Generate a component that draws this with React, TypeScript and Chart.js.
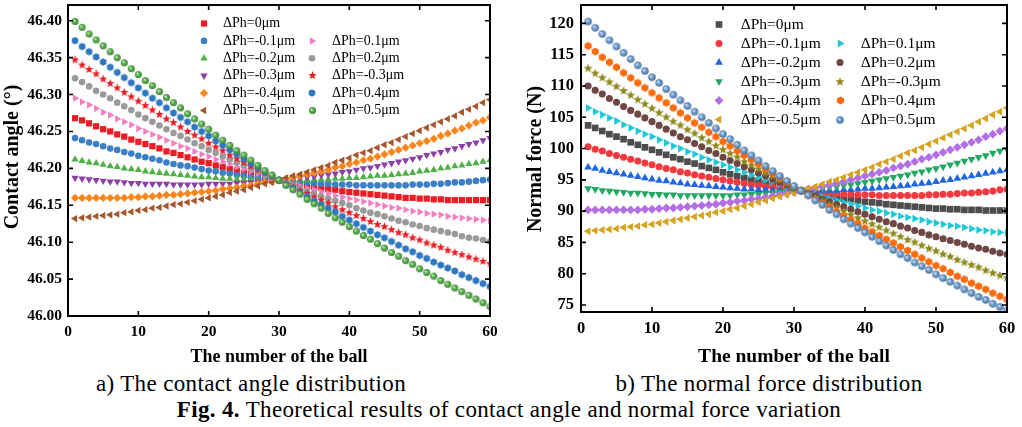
import React, { useEffect, useRef } from 'react';
import { Chart, registerables } from 'chart.js';

Chart.register(...registerables);

const FONT = '"Liberation Serif", "Times New Roman", Times, serif';

const BALLS = [1, 2, 3, 4, 5, 6, 7, 8, 9, 10, 11, 12, 13, 14, 15, 16, 17, 18, 19, 20, 21, 22, 23, 24, 25, 26, 27, 28, 29, 30, 31, 32, 33, 34, 35, 36, 37, 38, 39, 40, 41, 42, 43, 44, 45, 46, 47, 48, 49, 50, 51, 52, 53, 54, 55, 56, 57, 58, 59, 60];

const LABELS = ['ΔPh=0μm', 'ΔPh=-0.1μm', 'ΔPh=-0.2μm', 'ΔPh=-0.3μm', 'ΔPh=-0.4μm', 'ΔPh=-0.5μm', 'ΔPh=0.1μm', 'ΔPh=0.2μm', 'ΔPh=-0.3μm', 'ΔPh=0.4μm', 'ΔPh=0.5μm'];

const X_TICKS = [0, 10, 20, 30, 40, 50, 60];
const CA_TICKS = [46.0, 46.05, 46.1, 46.15, 46.2, 46.25, 46.3, 46.35, 46.4];
const NF_TICKS = [75, 80, 85, 90, 95, 100, 105, 110, 115, 120];

// ---------- a) contact angle (deg) ----------
const CA_0 = [46.268, 46.265, 46.261, 46.257, 46.253, 46.250, 46.246, 46.243, 46.239, 46.236, 46.233, 46.230, 46.227, 46.223, 46.221, 46.218, 46.215, 46.212, 46.209, 46.207, 46.204, 46.202, 46.199, 46.197, 46.194, 46.192, 46.190, 46.188, 46.186, 46.184, 46.182, 46.180, 46.179, 46.177, 46.175, 46.174, 46.172, 46.171, 46.169, 46.168, 46.167, 46.166, 46.165, 46.164, 46.163, 46.162, 46.161, 46.160, 46.160, 46.159, 46.159, 46.158, 46.158, 46.157, 46.157, 46.157, 46.157, 46.157, 46.157, 46.157];
const CA_M01 = [46.241, 46.238, 46.235, 46.233, 46.230, 46.227, 46.225, 46.222, 46.220, 46.217, 46.215, 46.213, 46.211, 46.208, 46.206, 46.204, 46.203, 46.201, 46.199, 46.197, 46.196, 46.194, 46.193, 46.191, 46.190, 46.188, 46.187, 46.186, 46.185, 46.184, 46.183, 46.182, 46.181, 46.181, 46.180, 46.179, 46.179, 46.178, 46.178, 46.178, 46.177, 46.177, 46.177, 46.177, 46.177, 46.177, 46.177, 46.177, 46.178, 46.178, 46.178, 46.179, 46.179, 46.180, 46.181, 46.181, 46.182, 46.183, 46.184, 46.185];
const CA_M02 = [46.212, 46.210, 46.208, 46.207, 46.205, 46.203, 46.202, 46.200, 46.199, 46.198, 46.196, 46.195, 46.194, 46.193, 46.192, 46.191, 46.190, 46.189, 46.188, 46.188, 46.187, 46.186, 46.186, 46.185, 46.185, 46.185, 46.184, 46.184, 46.184, 46.184, 46.184, 46.184, 46.184, 46.184, 46.185, 46.185, 46.185, 46.186, 46.186, 46.187, 46.187, 46.188, 46.189, 46.190, 46.190, 46.191, 46.192, 46.193, 46.194, 46.196, 46.197, 46.198, 46.200, 46.201, 46.203, 46.204, 46.206, 46.207, 46.209, 46.211];
const CA_M03 = [46.187, 46.186, 46.185, 46.184, 46.183, 46.182, 46.182, 46.181, 46.180, 46.180, 46.179, 46.179, 46.179, 46.179, 46.178, 46.178, 46.178, 46.178, 46.178, 46.179, 46.179, 46.179, 46.179, 46.180, 46.180, 46.181, 46.182, 46.182, 46.183, 46.184, 46.185, 46.186, 46.187, 46.188, 46.189, 46.191, 46.192, 46.193, 46.195, 46.196, 46.198, 46.200, 46.201, 46.203, 46.205, 46.207, 46.209, 46.211, 46.213, 46.215, 46.218, 46.220, 46.222, 46.225, 46.227, 46.230, 46.233, 46.235, 46.238, 46.241];
const CA_M04 = [46.160, 46.160, 46.160, 46.160, 46.160, 46.160, 46.160, 46.160, 46.161, 46.161, 46.162, 46.162, 46.163, 46.164, 46.164, 46.165, 46.166, 46.167, 46.168, 46.169, 46.170, 46.172, 46.173, 46.174, 46.176, 46.177, 46.179, 46.181, 46.182, 46.184, 46.186, 46.188, 46.190, 46.192, 46.194, 46.196, 46.198, 46.201, 46.203, 46.206, 46.208, 46.211, 46.213, 46.216, 46.219, 46.222, 46.225, 46.228, 46.231, 46.234, 46.237, 46.240, 46.244, 46.247, 46.251, 46.254, 46.258, 46.262, 46.265, 46.269];
const CA_M05 = [46.132, 46.133, 46.134, 46.135, 46.136, 46.137, 46.138, 46.140, 46.141, 46.143, 46.144, 46.146, 46.147, 46.149, 46.151, 46.152, 46.154, 46.156, 46.158, 46.160, 46.162, 46.164, 46.167, 46.169, 46.171, 46.174, 46.176, 46.179, 46.181, 46.184, 46.187, 46.190, 46.192, 46.195, 46.198, 46.201, 46.204, 46.208, 46.211, 46.214, 46.218, 46.221, 46.224, 46.228, 46.232, 46.235, 46.239, 46.243, 46.247, 46.251, 46.255, 46.259, 46.263, 46.267, 46.271, 46.276, 46.280, 46.284, 46.289, 46.293];
const CA_P01 = [46.295, 46.290, 46.286, 46.281, 46.276, 46.272, 46.267, 46.263, 46.259, 46.254, 46.250, 46.246, 46.242, 46.238, 46.234, 46.230, 46.227, 46.223, 46.219, 46.216, 46.212, 46.209, 46.206, 46.202, 46.199, 46.196, 46.193, 46.190, 46.187, 46.184, 46.181, 46.178, 46.176, 46.173, 46.171, 46.168, 46.166, 46.163, 46.161, 46.159, 46.157, 46.155, 46.153, 46.151, 46.149, 46.147, 46.146, 46.144, 46.142, 46.141, 46.139, 46.138, 46.137, 46.135, 46.134, 46.133, 46.132, 46.131, 46.130, 46.129];
const CA_P02 = [46.322, 46.317, 46.311, 46.305, 46.300, 46.295, 46.289, 46.284, 46.279, 46.273, 46.268, 46.263, 46.258, 46.253, 46.248, 46.244, 46.239, 46.234, 46.230, 46.225, 46.221, 46.216, 46.212, 46.208, 46.204, 46.200, 46.196, 46.192, 46.188, 46.184, 46.180, 46.177, 46.173, 46.169, 46.166, 46.162, 46.159, 46.156, 46.153, 46.150, 46.146, 46.143, 46.140, 46.138, 46.135, 46.132, 46.129, 46.127, 46.124, 46.122, 46.119, 46.117, 46.115, 46.113, 46.111, 46.108, 46.106, 46.105, 46.103, 46.101];
const CA_P03 = [46.347, 46.340, 46.334, 46.328, 46.321, 46.315, 46.309, 46.303, 46.297, 46.291, 46.285, 46.279, 46.273, 46.267, 46.262, 46.256, 46.250, 46.245, 46.240, 46.234, 46.229, 46.224, 46.218, 46.213, 46.208, 46.203, 46.198, 46.194, 46.189, 46.184, 46.179, 46.175, 46.170, 46.166, 46.161, 46.157, 46.153, 46.148, 46.144, 46.140, 46.136, 46.132, 46.128, 46.124, 46.121, 46.117, 46.113, 46.110, 46.106, 46.103, 46.099, 46.096, 46.093, 46.089, 46.086, 46.083, 46.080, 46.077, 46.074, 46.071];
const CA_P04 = [46.373, 46.365, 46.358, 46.351, 46.344, 46.337, 46.330, 46.323, 46.316, 46.309, 46.302, 46.295, 46.289, 46.282, 46.275, 46.269, 46.263, 46.256, 46.250, 46.244, 46.237, 46.231, 46.225, 46.219, 46.213, 46.207, 46.201, 46.195, 46.190, 46.184, 46.178, 46.173, 46.167, 46.162, 46.156, 46.151, 46.146, 46.141, 46.135, 46.130, 46.125, 46.120, 46.115, 46.110, 46.106, 46.101, 46.096, 46.091, 46.087, 46.082, 46.078, 46.073, 46.069, 46.065, 46.061, 46.056, 46.052, 46.048, 46.044, 46.040];
const CA_P05 = [46.399, 46.391, 46.382, 46.374, 46.366, 46.358, 46.350, 46.343, 46.335, 46.327, 46.319, 46.312, 46.304, 46.296, 46.289, 46.282, 46.274, 46.267, 46.260, 46.253, 46.245, 46.238, 46.231, 46.224, 46.218, 46.211, 46.204, 46.197, 46.191, 46.184, 46.177, 46.171, 46.165, 46.158, 46.152, 46.146, 46.139, 46.133, 46.127, 46.121, 46.115, 46.109, 46.104, 46.098, 46.092, 46.086, 46.081, 46.075, 46.070, 46.064, 46.059, 46.054, 46.048, 46.043, 46.038, 46.033, 46.028, 46.023, 46.018, 46.013];

// ---------- b) normal force (N) ----------
const NF_0 = [103.7, 103.3, 102.8, 102.3, 101.9, 101.5, 101.0, 100.6, 100.2, 99.8, 99.4, 99.0, 98.6, 98.3, 97.9, 97.6, 97.2, 96.9, 96.6, 96.2, 95.9, 95.6, 95.3, 95.0, 94.8, 94.5, 94.2, 94.0, 93.7, 93.5, 93.25, 93.0, 92.8, 92.6, 92.4, 92.2, 92.0, 91.9, 91.7, 91.5, 91.4, 91.3, 91.1, 91.0, 90.9, 90.8, 90.7, 90.6, 90.5, 90.4, 90.4, 90.3, 90.3, 90.2, 90.2, 90.2, 90.1, 90.1, 90.1, 90.1];
const NF_M01 = [100.3, 99.9, 99.6, 99.2, 98.9, 98.6, 98.3, 98.0, 97.7, 97.4, 97.1, 96.8, 96.6, 96.3, 96.1, 95.8, 95.6, 95.4, 95.2, 95.0, 94.8, 94.6, 94.4, 94.2, 94.1, 93.9, 93.8, 93.6, 93.5, 93.4, 93.25, 93.1, 93.0, 93.0, 92.9, 92.8, 92.7, 92.7, 92.6, 92.6, 92.6, 92.5, 92.5, 92.5, 92.5, 92.5, 92.5, 92.5, 92.6, 92.6, 92.7, 92.7, 92.8, 92.9, 92.9, 93.0, 93.1, 93.2, 93.4, 93.5];
const NF_M02 = [97.0, 96.8, 96.5, 96.3, 96.1, 95.9, 95.7, 95.5, 95.3, 95.1, 94.9, 94.8, 94.6, 94.5, 94.3, 94.2, 94.1, 94.0, 93.9, 93.8, 93.7, 93.6, 93.5, 93.5, 93.4, 93.4, 93.3, 93.3, 93.3, 93.3, 93.25, 93.25, 93.3, 93.3, 93.3, 93.3, 93.4, 93.4, 93.5, 93.6, 93.6, 93.7, 93.8, 93.9, 94.0, 94.1, 94.3, 94.4, 94.5, 94.7, 94.9, 95.0, 95.2, 95.4, 95.6, 95.8, 96.0, 96.2, 96.4, 96.6];
const NF_M03 = [93.6, 93.5, 93.3, 93.2, 93.1, 93.0, 92.9, 92.9, 92.8, 92.7, 92.7, 92.6, 92.6, 92.5, 92.5, 92.5, 92.5, 92.5, 92.5, 92.5, 92.5, 92.6, 92.6, 92.7, 92.7, 92.8, 92.9, 93.0, 93.0, 93.1, 93.25, 93.4, 93.5, 93.6, 93.8, 93.9, 94.1, 94.2, 94.4, 94.6, 94.8, 95.0, 95.2, 95.4, 95.6, 95.8, 96.1, 96.3, 96.6, 96.8, 97.1, 97.4, 97.7, 98.0, 98.3, 98.6, 98.9, 99.3, 99.6, 99.9];
const NF_M04 = [90.2, 90.2, 90.2, 90.2, 90.2, 90.2, 90.2, 90.2, 90.3, 90.3, 90.4, 90.5, 90.5, 90.6, 90.7, 90.8, 90.9, 91.0, 91.1, 91.3, 91.4, 91.6, 91.7, 91.9, 92.0, 92.2, 92.4, 92.6, 92.8, 93.0, 93.25, 93.5, 93.7, 94.0, 94.2, 94.5, 94.7, 95.0, 95.3, 95.6, 95.9, 96.2, 96.5, 96.9, 97.2, 97.5, 97.9, 98.3, 98.6, 99.0, 99.4, 99.8, 100.2, 100.6, 101.0, 101.4, 101.9, 102.3, 102.8, 103.2];
const NF_M05 = [86.8, 86.9, 87.0, 87.1, 87.2, 87.4, 87.5, 87.6, 87.8, 87.9, 88.1, 88.3, 88.5, 88.7, 88.9, 89.1, 89.3, 89.5, 89.8, 90.0, 90.3, 90.5, 90.8, 91.1, 91.4, 91.7, 92.0, 92.3, 92.6, 92.9, 93.25, 93.6, 93.9, 94.3, 94.7, 95.0, 95.4, 95.8, 96.2, 96.6, 97.0, 97.5, 97.9, 98.3, 98.8, 99.3, 99.7, 100.2, 100.7, 101.2, 101.7, 102.2, 102.7, 103.2, 103.7, 104.3, 104.8, 105.4, 105.9, 106.5];
const NF_P01 = [106.5, 105.9, 105.4, 104.9, 104.4, 103.8, 103.3, 102.8, 102.3, 101.9, 101.4, 100.9, 100.4, 100.0, 99.5, 99.1, 98.6, 98.2, 97.8, 97.4, 97.0, 96.6, 96.2, 95.8, 95.4, 95.0, 94.7, 94.3, 93.9, 93.6, 93.25, 92.9, 92.6, 92.3, 92.0, 91.7, 91.4, 91.1, 90.8, 90.5, 90.2, 90.0, 89.7, 89.5, 89.2, 89.0, 88.8, 88.6, 88.3, 88.1, 87.9, 87.7, 87.6, 87.4, 87.2, 87.0, 86.9, 86.7, 86.6, 86.5];
const NF_P02 = [110.0, 109.3, 108.7, 108.0, 107.4, 106.7, 106.1, 105.5, 104.9, 104.3, 103.7, 103.1, 102.5, 101.9, 101.4, 100.8, 100.3, 99.7, 99.2, 98.6, 98.1, 97.6, 97.1, 96.6, 96.1, 95.6, 95.1, 94.6, 94.2, 93.7, 93.25, 92.8, 92.4, 91.9, 91.5, 91.1, 90.7, 90.3, 89.9, 89.5, 89.1, 88.7, 88.3, 88.0, 87.6, 87.3, 86.9, 86.6, 86.2, 85.9, 85.6, 85.3, 85.0, 84.7, 84.4, 84.1, 83.9, 83.6, 83.3, 83.1];
const NF_P03 = [112.8, 112.0, 111.3, 110.6, 109.9, 109.2, 108.5, 107.8, 107.1, 106.4, 105.7, 105.0, 104.3, 103.7, 103.0, 102.4, 101.7, 101.1, 100.4, 99.8, 99.2, 98.6, 97.9, 97.3, 96.7, 96.1, 95.6, 95.0, 94.4, 93.8, 93.25, 92.7, 92.1, 91.6, 91.0, 90.5, 90.0, 89.4, 88.9, 88.4, 87.9, 87.4, 86.9, 86.4, 85.9, 85.4, 85.0, 84.5, 84.0, 83.6, 83.1, 82.7, 82.2, 81.8, 81.4, 81.0, 80.5, 80.1, 79.7, 79.3];
const NF_P04 = [116.4, 115.5, 114.6, 113.8, 113.0, 112.1, 111.3, 110.5, 109.7, 108.9, 108.1, 107.3, 106.5, 105.7, 104.9, 104.1, 103.4, 102.6, 101.9, 101.1, 100.4, 99.6, 98.9, 98.2, 97.5, 96.7, 96.0, 95.3, 94.6, 93.9, 93.25, 92.6, 91.9, 91.2, 90.6, 89.9, 89.3, 88.6, 88.0, 87.3, 86.7, 86.1, 85.5, 84.9, 84.3, 83.7, 83.1, 82.5, 81.9, 81.3, 80.8, 80.2, 79.6, 79.1, 78.5, 78.0, 77.5, 76.9, 76.4, 75.9];
const NF_P05 = [120.3, 119.3, 118.3, 117.3, 116.3, 115.3, 114.3, 113.3, 112.4, 111.4, 110.5, 109.5, 108.6, 107.7, 106.8, 105.9, 105.0, 104.1, 103.2, 102.3, 101.5, 100.6, 99.7, 98.9, 98.1, 97.2, 96.4, 95.6, 94.8, 94.0, 93.25, 92.5, 91.7, 91.0, 90.2, 89.5, 88.7, 88.0, 87.3, 86.6, 85.9, 85.2, 84.5, 83.8, 83.1, 82.5, 81.8, 81.2, 80.6, 79.9, 79.3, 78.7, 78.1, 77.5, 76.9, 76.3, 75.8, 75.2, 74.7, 74.1];

const CA_SERIES = [CA_0, CA_M01, CA_M02, CA_M03, CA_M04, CA_M05, CA_P01, CA_P02, CA_P03, CA_P04, CA_P05];
const NF_SERIES = [NF_0, NF_M01, NF_M02, NF_M03, NF_M04, NF_M05, NF_P01, NF_P02, NF_P03, NF_P04, NF_P05];

const CA_COLORS = ['#ec1c24', '#3b7fc4', '#50b048', '#8c3fa5', '#f8861c', '#a5562c', '#f47ec0', '#9a9a9a', '#ec1c24', '#2f77c0', '#58b44c'];
const NF_COLORS = ['#4d4d4d', '#f2393f', '#1f66e0', '#22a861', '#b46ee4', '#d7a21d', '#1ec8d6', '#6e4644', '#8e8b1e', '#fd6b0d', '#6d9fd6'];
const MARKERS = ['square', 'circle', 'triUp', 'triDown', 'diamond', 'triLeft', 'triRight', 'circle', 'star', 'hex', 'sphere'];

function mix(hex: string, target: number, t: number) {
  const n = parseInt(hex.slice(1), 16);
  const r = (n >> 16) & 255, g = (n >> 8) & 255, b = n & 255;
  const f = (c: number) => Math.round(c + (target - c) * t);
  return `rgb(${f(r)},${f(g)},${f(b)})`;
}

function makeCanvas(size: number) {
  const c = document.createElement('canvas');
  c.width = size;
  c.height = size;
  return c;
}

function starImg(color: string, R: number) {
  const size = Math.ceil(R * 2) + 2;
  const c = makeCanvas(size);
  const ctx = c.getContext('2d')!;
  const cx = size / 2, cy = size / 2, r = R * 0.43;
  ctx.beginPath();
  for (let i = 0; i < 10; i++) {
    const rr = i % 2 === 0 ? R : r;
    const a = -Math.PI / 2 + (i * Math.PI) / 5;
    const px = cx + rr * Math.cos(a), py = cy + rr * Math.sin(a);
    if (i === 0) ctx.moveTo(px, py); else ctx.lineTo(px, py);
  }
  ctx.closePath();
  ctx.fillStyle = color;
  ctx.fill();
  return c;
}

function hexImg(color: string, R: number) {
  const size = Math.ceil(R * 2) + 2;
  const c = makeCanvas(size);
  const ctx = c.getContext('2d')!;
  const cx = size / 2, cy = size / 2;
  ctx.beginPath();
  for (let i = 0; i < 6; i++) {
    const a = -Math.PI / 2 + (i * Math.PI) / 3;
    const px = cx + R * Math.cos(a), py = cy + R * Math.sin(a);
    if (i === 0) ctx.moveTo(px, py); else ctx.lineTo(px, py);
  }
  ctx.closePath();
  ctx.fillStyle = color;
  ctx.fill();
  return c;
}

function sphereImg(color: string, R: number) {
  const size = Math.ceil(R * 2) + 2;
  const c = makeCanvas(size);
  const ctx = c.getContext('2d')!;
  const cx = size / 2, cy = size / 2;
  const g = ctx.createRadialGradient(cx - R * 0.35, cy - R * 0.35, 0, cx, cy, R);
  g.addColorStop(0, mix(color, 255, 0.8));
  g.addColorStop(0.5, color);
  g.addColorStop(1, mix(color, 0, 0.3));
  ctx.beginPath();
  ctx.arc(cx, cy, R, 0, Math.PI * 2);
  ctx.fillStyle = g;
  ctx.fill();
  return c;
}

type Marker = { pointStyle: any; rotation: number; radius: number };

function marker(kind: string, color: string, k: number): Marker {
  switch (kind) {
    case 'square': return { pointStyle: 'rect', rotation: 0, radius: 4.4 * k };
    case 'circle': return { pointStyle: 'circle', rotation: 0, radius: 3.3 * k };
    case 'triUp': return { pointStyle: 'triangle', rotation: 0, radius: 4.2 * k };
    case 'triDown': return { pointStyle: 'triangle', rotation: 180, radius: 4.2 * k };
    case 'triLeft': return { pointStyle: 'triangle', rotation: -90, radius: 4.2 * k };
    case 'triRight': return { pointStyle: 'triangle', rotation: 90, radius: 4.2 * k };
    case 'diamond': return { pointStyle: 'rectRot', rotation: 0, radius: 4.1 * k };
    case 'star': return { pointStyle: starImg(color, 4.4 * k), rotation: 0, radius: 4 * k };
    case 'hex': return { pointStyle: hexImg(color, 3.8 * k), rotation: 0, radius: 4 * k };
    default: return { pointStyle: sphereImg(color, 3.5 * k), rotation: 0, radius: 4 * k };
  }
}

function drawMarker(ctx: CanvasRenderingContext2D, m: Marker, color: string, x: number, y: number) {
  const st = m.pointStyle;
  if (typeof st !== 'string') {
    ctx.drawImage(st, Math.round(x - st.width / 2), Math.round(y - st.height / 2));
    return;
  }
  const r = m.radius;
  ctx.fillStyle = color;
  ctx.beginPath();
  if (st === 'circle') {
    ctx.arc(x, y, r, 0, Math.PI * 2);
  } else if (st === 'rect') {
    const s = r * Math.SQRT1_2;
    ctx.rect(x - s, y - s, 2 * s, 2 * s);
  } else if (st === 'rectRot') {
    ctx.moveTo(x, y - r); ctx.lineTo(x + r, y); ctx.lineTo(x, y + r); ctx.lineTo(x - r, y); ctx.closePath();
  } else {
    let a = (m.rotation * Math.PI) / 180;
    for (let i = 0; i < 3; i++) {
      const px = x + Math.sin(a) * r, py = y - Math.cos(a) * r;
      if (i === 0) ctx.moveTo(px, py); else ctx.lineTo(px, py);
      a += (2 * Math.PI) / 3;
    }
    ctx.closePath();
  }
  ctx.fill();
}

type Cfg = {
  series: number[][];
  colors: string[];
  k: number;
  yMin: number; yMax: number; yStep: number; yTicks: number[]; decimals: number;
  padRight: number; yAxisWidth: number; xAxisHeight: number;
  tickSize: number; xTickPad: number; yTickPad: number;
  xTitle: string; xTitleSize: number; xTitleY: number;
  yTitle: string; yTitleSize: number; yTitleX: number; yTitleY: number;
  legSize: number; legC1M: number; legC1T: number; legC2M: number; legC2T: number; legY0: number; legStep: number;
};

const LEFT: Cfg = {
  series: CA_SERIES, colors: CA_COLORS, k: 1,
  yMin: 46.0, yMax: 46.4213, yStep: 0.05, yTicks: CA_TICKS, decimals: 2,
  padRight: 30, yAxisWidth: 68, xAxisHeight: 54,
  tickSize: 15.5, xTickPad: 6.5, yTickPad: 6,
  xTitle: 'The number of the ball', xTitleSize: 18, xTitleY: 357,
  yTitle: 'Contact angle (°)', yTitleSize: 20, yTitleX: 13, yTitleY: 157,
  legSize: 14, legC1M: 204, legC1T: 223, legC2M: 312, legC2T: 332, legY0: 23.5, legStep: 17.4,
};

const RIGHT: Cfg = {
  series: NF_SERIES, colors: NF_COLORS, k: 1.07,
  yMin: 73.88, yMax: 122.94, yStep: 5, yTicks: NF_TICKS, decimals: 0,
  padRight: 15, yAxisWidth: 61, xAxisHeight: 58,
  tickSize: 16.5, xTickPad: 7, yTickPad: 7,
  xTitle: 'The number of the ball', xTitleSize: 19.5, xTitleY: 356.5,
  yTitle: 'Normal force (N)', yTitleSize: 20, yTitleX: 16, yTitleY: 159,
  legSize: 15.5, legC1M: 199, legC1T: 220.7, legC2M: 320, legC2T: 340.7, legY0: 24.5, legStep: 19,
};

function buildChart(canvas: HTMLCanvasElement, cfg: Cfg) {
  const markers = cfg.series.map((_, i) => marker(MARKERS[i], cfg.colors[i], cfg.k));
  const datasets = cfg.series.map((vals, i) => ({
    label: LABELS[i],
    data: BALLS.map((x, j) => ({ x, y: vals[j] })),
    showLine: false,
    pointStyle: markers[i].pointStyle,
    pointRotation: markers[i].rotation,
    pointRadius: markers[i].radius,
    pointHoverRadius: markers[i].radius,
    pointBackgroundColor: cfg.colors[i],
    pointBorderColor: cfg.colors[i],
    pointBorderWidth: 0,
    order: cfg.series.length - i,
  }));

  const decor = {
    id: 'decor',
    afterDatasetsDraw(chart: any) {
      const { ctx, chartArea: a, scales } = chart;
      ctx.save();
      // frame
      ctx.strokeStyle = '#000';
      ctx.lineWidth = 2;
      ctx.strokeRect(a.left, a.top, a.right - a.left, a.bottom - a.top);
      // inward ticks on all sides
      const TL = 5;
      ctx.lineWidth = 1.6;
      ctx.beginPath();
      X_TICKS.forEach((v) => {
        const px = scales.x.getPixelForValue(v);
        ctx.moveTo(px, a.bottom); ctx.lineTo(px, a.bottom - TL);
        ctx.moveTo(px, a.top); ctx.lineTo(px, a.top + TL);
      });
      cfg.yTicks.forEach((v) => {
        const py = scales.y.getPixelForValue(v);
        ctx.moveTo(a.left, py); ctx.lineTo(a.left + TL, py);
        ctx.moveTo(a.right, py); ctx.lineTo(a.right - TL, py);
      });
      ctx.stroke();
      // axis titles
      ctx.fillStyle = '#000';
      ctx.textAlign = 'center';
      ctx.textBaseline = 'middle';
      ctx.font = `bold ${cfg.xTitleSize}px ${FONT}`;
      ctx.fillText(cfg.xTitle, (a.left + a.right) / 2, cfg.xTitleY);
      ctx.save();
      ctx.translate(cfg.yTitleX, cfg.yTitleY);
      ctx.rotate(-Math.PI / 2);
      ctx.font = `bold ${cfg.yTitleSize}px ${FONT}`;
      ctx.fillText(cfg.yTitle, 0, 0);
      ctx.restore();
      // legend (2 columns: 0..5 left, 6..10 right starting at 2nd row)
      ctx.textAlign = 'left';
      ctx.font = `${cfg.legSize}px ${FONT}`;
      cfg.series.forEach((_, i) => {
        const col = i < 6 ? 0 : 1;
        const row = i < 6 ? i : i - 5;
        const y = cfg.legY0 + row * cfg.legStep;
        const mx = col === 0 ? cfg.legC1M : cfg.legC2M;
        const tx = col === 0 ? cfg.legC1T : cfg.legC2T;
        drawMarker(ctx, markers[i], cfg.colors[i], mx, y);
        ctx.fillStyle = '#000';
        ctx.fillText(LABELS[i], tx, y);
      });
      ctx.restore();
    },
  };

  return new Chart(canvas, {
    type: 'scatter',
    data: { datasets },
    plugins: [decor],
    options: {
      animation: false,
      responsive: false,
      maintainAspectRatio: false,
      devicePixelRatio: 1,
      events: [],
      layout: { padding: { left: 0, top: 5, right: cfg.padRight, bottom: 0 } },
      plugins: { legend: { display: false }, tooltip: { enabled: false }, title: { display: false } },
      scales: {
        x: {
          type: 'linear',
          min: 0,
          max: 60,
          grid: { display: false, drawTicks: false },
          border: { display: false },
          ticks: {
            stepSize: 10,
            padding: cfg.xTickPad,
            color: '#000',
            maxRotation: 0,
            font: { family: FONT, size: cfg.tickSize, weight: 'bold' },
          },
          afterFit: (s: any) => { s.height = cfg.xAxisHeight; s.paddingLeft = 0; s.paddingRight = 0; },
        },
        y: {
          type: 'linear',
          min: cfg.yMin,
          max: cfg.yMax,
          grid: { display: false, drawTicks: false },
          border: { display: false },
          ticks: {
            stepSize: cfg.yStep,
            includeBounds: false,
            padding: cfg.yTickPad,
            color: '#000',
            font: { family: FONT, size: cfg.tickSize, weight: 'bold' },
            callback: (v: any) => Number(v).toFixed(cfg.decimals),
          },
          afterFit: (s: any) => { s.width = cfg.yAxisWidth; s.paddingTop = 0; s.paddingBottom = 0; },
        },
      },
    } as any,
  });
}

const captionStyle: React.CSSProperties = {
  position: 'absolute',
  fontFamily: FONT,
  fontSize: 23,
  lineHeight: '23px',
  letterSpacing: '0.35px',
  color: '#000',
  textAlign: 'center',
  whiteSpace: 'nowrap',
};

export default function App() {
  const leftRef = useRef<HTMLCanvasElement>(null);
  const rightRef = useRef<HTMLCanvasElement>(null);

  useEffect(() => {
    const c1 = buildChart(leftRef.current!, LEFT);
    const c2 = buildChart(rightRef.current!, RIGHT);
    return () => {
      c1.destroy();
      c2.destroy();
    };
  }, []);

  return (
    <div style={{ position: 'fixed', left: 0, top: 0, width: 1022, height: 427, background: '#fff', overflow: 'hidden' }}>
      <canvas ref={leftRef} width={520} height={370} style={{ position: 'absolute', left: 0, top: 0, width: 520, height: 370 }} />
      <canvas ref={rightRef} width={502} height={370} style={{ position: 'absolute', left: 520, top: 0, width: 502, height: 370 }} />
      <div style={{ ...captionStyle, left: 0, width: 502, top: 372 }}>a) The contact angle distribution</div>
      <div style={{ ...captionStyle, left: 520, width: 498, top: 372 }}>b) The normal force distribution</div>
      <div style={{ ...captionStyle, left: 0, width: 1018, top: 398 }}>
        <b>Fig. 4.</b> Theoretical results of contact angle and normal force variation
      </div>
    </div>
  );
}
